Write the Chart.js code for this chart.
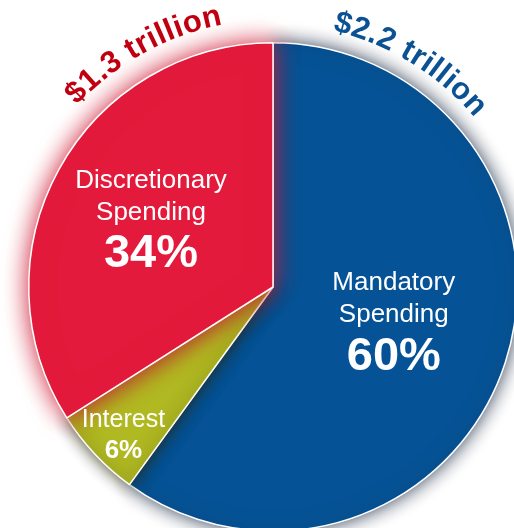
<!DOCTYPE html>
<html>
<head>
<meta charset="utf-8">
<script src="https://cdn.jsdelivr.net/npm/chart.js@4.4.0/dist/chart.umd.min.js"></script>
<style>
  html, body { margin: 0; padding: 0; background: #fff; overflow: hidden; }
  #wrap { position: absolute; left: 0; top: 0; width: 560px; height: 560px; }
</style>
</head>
<body>
<div id="wrap"><canvas id="budget" width="560" height="560"></canvas></div>
<script>
// spending categories, clockwise from 12 o'clock
const categories = [["Mandatory", "Spending"], ["Interest"], ["Discretionary", "Spending"]];
const shares = [60, 6, 34];
// dollar totals written along the rim (mandatory side, discretionary side)
const totals = ["$2.2 trillion", "$1.3 trillion"];

const sliceColors = ["#055396", "#B0B922", "#E31A3B"];
const FONT = "'Liberation Sans', Arial, sans-serif";

// each slice gets its own soft glow, drawn slice by slice so it spills onto the neighbours
const sliceGlow = {
  id: "sliceGlow",
  beforeDatasetDraw(chart, args, opts) {
    const ctx = chart.ctx;
    args.meta.data.forEach((arc, i) => {
      ctx.save();
      ctx.shadowColor = opts.colors[i];
      ctx.shadowBlur = opts.blur[i];
      arc.draw(ctx);
      ctx.restore();
    });
    return false;
  }
};

// white labels inside the slices
const sliceLabels = {
  id: "sliceLabels",
  afterDatasetsDraw(chart, args, opts) {
    const ctx = chart.ctx;
    const meta = chart.getDatasetMeta(0);
    meta.data.forEach((arc, i) => {
      const p = arc.getProps(["x", "y", "startAngle", "endAngle", "outerRadius"], true);
      const mid = (p.startAngle + p.endAngle) / 2;
      const r = p.outerRadius * opts.radius[i];
      const cx = p.x + Math.cos(mid) * r;
      const cy = p.y + Math.sin(mid) * r;
      const st = opts.style[i];
      ctx.save();
      ctx.fillStyle = "#fff";
      ctx.textAlign = "center";
      ctx.textBaseline = "alphabetic";
      ctx.font = st.name + "px " + FONT;
      categories[i].forEach((line, k) => {
        ctx.fillText(line, cx, cy + st.top + k * st.lh);
      });
      ctx.font = "bold " + st.pct + "px " + FONT;
      ctx.fillText(shares[i] + "%", cx, cy + st.pctY);
      ctx.restore();
    });
  }
};

// totals bent along the outside of the pie
const rimText = {
  id: "rimText",
  afterDraw(chart, args, opts) {
    const ctx = chart.ctx;
    const arc = chart.getDatasetMeta(0).data[0];
    const { x, y, outerRadius } = arc.getProps(["x", "y", "outerRadius"], true);
    totals.forEach((txt, i) => {
      const r = outerRadius + opts.gap[i];
      ctx.save();
      ctx.font = "bold " + opts.size + "px " + FONT;
      ctx.fillStyle = opts.colors[i];
      ctx.textAlign = "center";
      ctx.textBaseline = "alphabetic";
      const chars = txt.split("");
      const widths = chars.map(c => ctx.measureText(c).width);
      const total = widths.reduce((a, b) => a + b, 0) + opts.spacing * (chars.length - 1);
      const midA = (opts.at[i] - 90) * Math.PI / 180;
      let pos = -total / 2;
      chars.forEach((c, k) => {
        const a = midA + (pos + widths[k] / 2) / r;
        ctx.save();
        ctx.translate(x + Math.cos(a) * r, y + Math.sin(a) * r);
        ctx.rotate(a + Math.PI / 2);
        ctx.fillText(c, 0, 0);
        ctx.restore();
        pos += widths[k] + opts.spacing;
      });
      ctx.restore();
    });
  }
};

new Chart(document.getElementById("budget"), {
  type: "pie",
  data: {
    labels: categories.map(c => c.join(" ")),
    datasets: [{
      data: shares,
      backgroundColor: sliceColors,
      borderColor: "#ffffff",
      borderWidth: 1.5,
      hoverOffset: 0,
      offset: 0
    }]
  },
  options: {
    responsive: false,
    animation: false,
    events: [],
    layout: { padding: { left: 28, top: 42, right: 42, bottom: 28 } },
    plugins: {
      legend: { display: false },
      tooltip: { enabled: false },
      sliceGlow: {
        colors: ["rgba(30,45,70,0.9)", "rgba(40,40,15,0.9)", "rgba(205,25,50,1)"],
        blur: [18, 16, 24]
      },
      sliceLabels: {
        radius: [0.52, 0.84, 0.57],
        style: [
          { name: 26, lh: 32, top: -36, pct: 47, pctY: 44 },
          { name: 25, lh: 0, top: 0, pct: 26, pctY: 31 },
          { name: 26, lh: 32, top: -32, pct: 47, pctY: 47 }
        ]
      },
      rimText: {
        size: 31,
        spacing: 0.5,
        gap: [19, 23],
        at: [31.5, -29],
        colors: ["#0B5294", "#C00010"]
      }
    }
  },
  plugins: [sliceGlow, sliceLabels, rimText]
});
</script>
</body>
</html>
